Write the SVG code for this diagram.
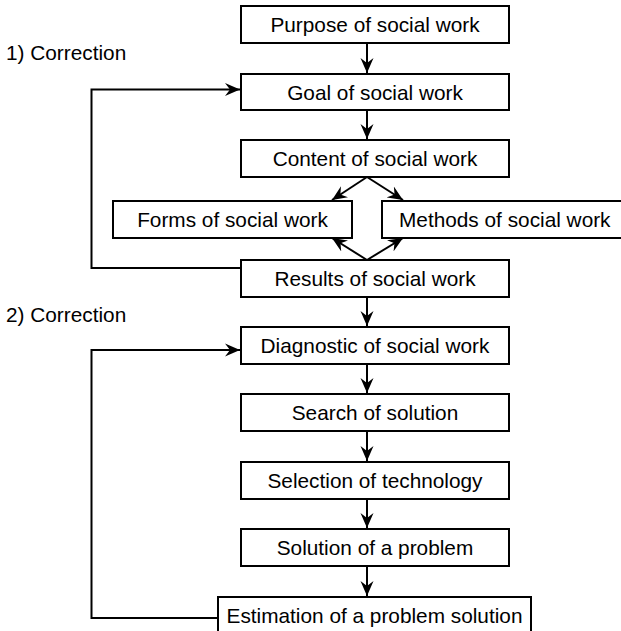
<svg xmlns="http://www.w3.org/2000/svg" width="621" height="631" viewBox="0 0 621 631">
<style>
.box{fill:#fff;stroke:#000;stroke-width:2}
.t{font-family:"Liberation Sans",Arial,sans-serif;font-size:20.8px;fill:#000}
.c{text-anchor:middle}
.ln{fill:none;stroke:#000;stroke-width:2}
</style>
<defs>
<marker id="ah" markerUnits="userSpaceOnUse" markerWidth="16" markerHeight="14" viewBox="-15 -7 16 14" refX="0" refY="0" orient="auto">
<path d="M0,0 L-15,-6.5 L-10,0 L-15,6.5 Z" fill="#000"/>
</marker>
</defs>
<text class="t" x="6" y="59.5">1) Correction</text>
<text class="t" x="6" y="321.5">2) Correction</text>
<g id="connectors">
<line class="ln" x1="367" y1="43" x2="367" y2="73" marker-end="url(#ah)"/>
<line class="ln" x1="367" y1="110" x2="367" y2="139" marker-end="url(#ah)"/>
<line class="ln" x1="367" y1="177" x2="332" y2="200" marker-end="url(#ah)"/>
<line class="ln" x1="367" y1="177" x2="403" y2="200" marker-end="url(#ah)"/>
<line class="ln" x1="367" y1="260" x2="332" y2="238" marker-end="url(#ah)"/>
<line class="ln" x1="367" y1="260" x2="403" y2="238" marker-end="url(#ah)"/>
<line class="ln" x1="367" y1="297" x2="367" y2="326" marker-end="url(#ah)"/>
<line class="ln" x1="367" y1="364" x2="367" y2="393" marker-end="url(#ah)"/>
<line class="ln" x1="367" y1="431" x2="367" y2="461" marker-end="url(#ah)"/>
<line class="ln" x1="367" y1="499" x2="367" y2="528" marker-end="url(#ah)"/>
<line class="ln" x1="367" y1="566" x2="367" y2="596" marker-end="url(#ah)"/>
<polyline class="ln" points="241,268 91.5,268 91.5,89.5 240,89.5" marker-end="url(#ah)"/>
<polyline class="ln" points="218,618 91.5,618 91.5,350 240,350" marker-end="url(#ah)"/>
</g>
<g id="purpose"><rect class="box" x="241" y="6" width="268" height="37"/><text class="t c" x="375" y="31.5">Purpose of social work</text></g>
<g id="goal"><rect class="box" x="241" y="74" width="268" height="36"/><text class="t c" x="375" y="99.5">Goal of social work</text></g>
<g id="content"><rect class="box" x="241" y="140" width="268" height="37"/><text class="t c" x="375" y="166">Content of social work</text></g>
<g id="forms"><rect class="box" x="113" y="201" width="239" height="37"/><text class="t c" x="232.5" y="227">Forms of social work</text></g>
<g id="methods"><rect class="box" x="382" y="201" width="250" height="37"/><text class="t" x="399" y="227">Methods of social work</text></g>
<g id="results"><rect class="box" x="241" y="260" width="268" height="37"/><text class="t c" x="375" y="286">Results of social work</text></g>
<g id="diagnostic"><rect class="box" x="241" y="327" width="268" height="37"/><text class="t c" x="375" y="353">Diagnostic of social work</text></g>
<g id="search"><rect class="box" x="241" y="394" width="268" height="37"/><text class="t c" x="375" y="420">Search of solution</text></g>
<g id="selection"><rect class="box" x="241" y="462" width="268" height="37"/><text class="t c" x="375" y="488">Selection of technology</text></g>
<g id="solution"><rect class="box" x="241" y="529" width="268" height="37"/><text class="t c" x="375" y="555">Solution of a problem</text></g>
<g id="estimation"><rect class="box" x="218" y="597" width="313" height="40"/><text class="t c" x="374.5" y="623">Estimation of a problem solution</text></g>
</svg>
